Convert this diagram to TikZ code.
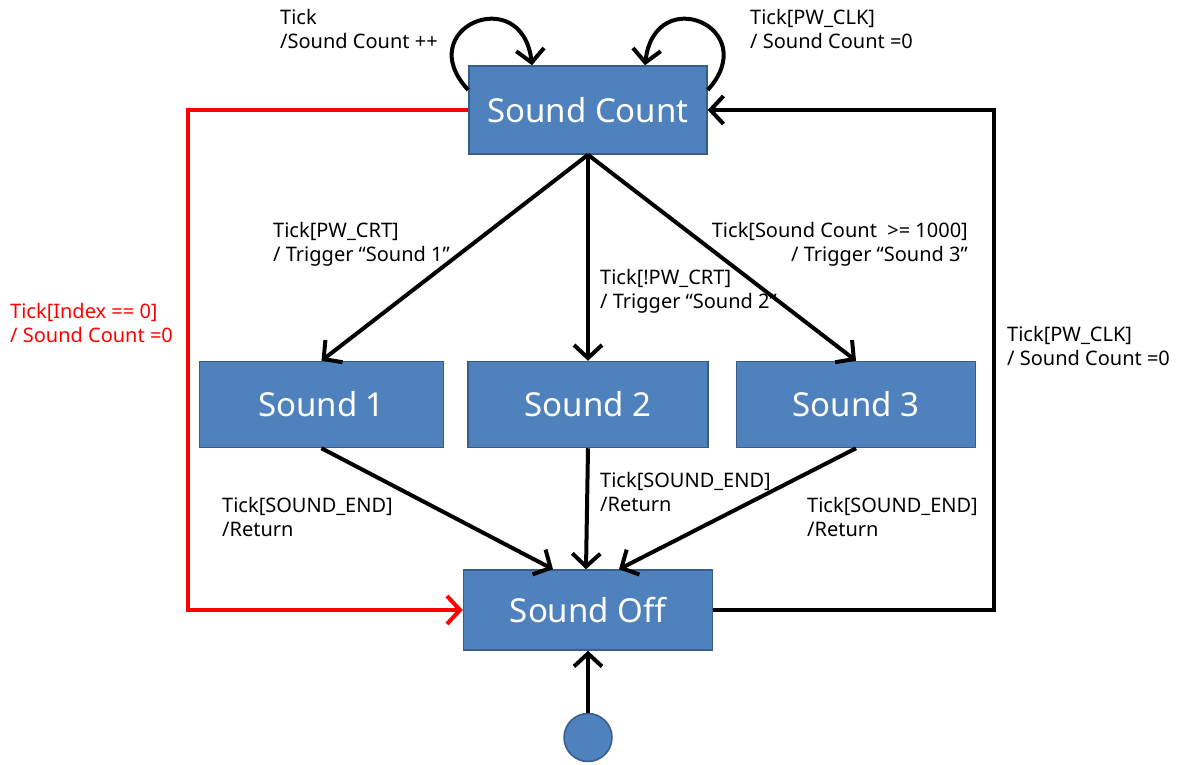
\documentclass[tikz,border=0pt]{standalone}
\usepackage{fontspec}
\setmainfont{Noto Sans}
\usetikzlibrary{arrows.meta,positioning}
\definecolor{stfill}{HTML}{4F81BD}
\definecolor{stline}{HTML}{385D8A}
\definecolor{resetred}{HTML}{FF0000}

\begin{document}
\begin{tikzpicture}[x=1pt,y=1pt,
  stbox/.style={draw=stline,line width=1.5pt,fill=stfill,text=white,font=\fontsize{33}{38}\selectfont,minimum height=86pt,inner sep=0pt},
  tr/.style={-{Straight Barb[length=13pt,width=28pt]},line width=4pt},
  lbl/.style={font=\fontsize{20}{24}\selectfont,inner sep=0pt,align=left,anchor=north west},
]
\useasboundingbox (0,0) rectangle (1185,764);
\node[stbox,minimum width=238pt,minimum height=88pt] (count) at (588,654) {Sound Count};
\node[stbox,minimum width=240pt,below=206pt of count] (snd2) {Sound 2};
\node[stbox,minimum width=244pt,left=23pt of snd2] (snd1) {Sound 1};
\node[stbox,minimum width=239pt,right=27pt of snd2] (snd3) {Sound 3};
\node[stbox,minimum width=249pt,minimum height=80pt,below=121pt of snd2] (off) {Sound Off};
\node[draw=stline,line width=1.5pt,fill=stfill,circle,minimum size=48pt,inner sep=0pt,below=62pt of off] (init) {};
% transitions
\foreach \s in {snd1,snd2,snd3} \draw[tr] (count.south) -- (\s.north);
\draw[tr] (snd1.south) -- ([xshift=-35pt]off.north);
\draw[tr] (snd2.south) -- ([xshift=-2pt]off.north);
\draw[tr] (snd3.south) -- ([xshift=31pt]off.north);
\draw[tr] (init.north) -- (off.south);
\draw[tr,resetred] (count.west) -- ++(-280,0) |- (off.west);
\draw[tr] (off.east) -- ++(281,0) |- (count.east);
\draw[tr] ([yshift=20pt]count.west) .. controls +(-58,62) and +(-10,84) .. ([xshift=-56pt]count.north);
\draw[tr] ([yshift=20pt]count.east) .. controls +(56,62) and +(10,84) .. ([xshift=57pt]count.north);
% labels
\node[lbl] (l1) at (280,755) {Tick\\/Sound Count ++};
\node[lbl] (l2) at (750,755) {Tick[PW\_CLK]\\/ Sound Count =0};
\node[lbl] (l3) at (273,542) {Tick[PW\_CRT]\\/ Trigger “Sound 1”};
\node[lbl] (l4) at (600,495) {Tick[!PW\_CRT]\\/ Trigger “Sound 2”};
\node[lbl,align=right,anchor=north east] (l5) at (968,542) {Tick[Sound Count\ \ >= 1000]\\/ Trigger “Sound 3”};
\node[lbl,text=resetred] (l6) at (10,461) {Tick[Index == 0]\\/ Sound Count =0};
\node[lbl] (l7) at (1007,438) {Tick[PW\_CLK]\\/ Sound Count =0};
\node[lbl] (l8) at (222,267) {Tick[SOUND\_END]\\/Return};
\node[lbl] (l9) at (600,292) {Tick[SOUND\_END]\\/Return};
\node[lbl] (l10) at (807,267) {Tick[SOUND\_END]\\/Return};
\end{tikzpicture}
\end{document}
